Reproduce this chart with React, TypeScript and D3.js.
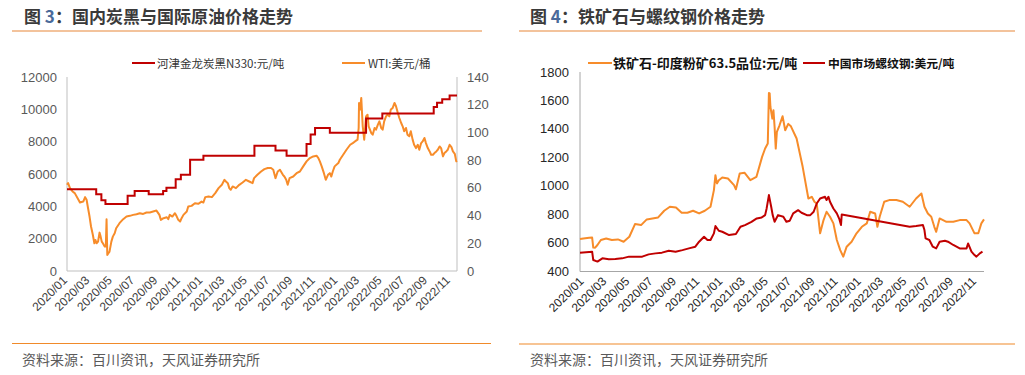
import React from "react";
import * as d3 from "d3";

// ---------- Data ----------
const monthLabels = ["2020/01","2020/03","2020/05","2020/07","2020/09","2020/11","2021/01","2021/03","2021/05","2021/07","2021/09","2021/11","2022/01","2022/03","2022/05","2022/07","2022/09","2022/11"];
const leftTicksL = [0,2000,4000,6000,8000,10000,12000];
const leftTicksR = [0,20,40,60,80,100,120,140];
const rightTicks = [400,600,800,1000,1200,1400,1600,1800];

const carbonBlack: [string, number][] = [["2020-01-01",5050],["2020-03-20",4750],["2020-04-03",4380],["2020-04-14",4150],["2020-06-13",4650],["2020-07-02",4950],["2020-08-09",4750],["2020-09-17",4950],["2020-09-26",5150],["2020-10-21",5680],["2020-11-04",5950],["2020-11-29",6880],["2021-01-04",7130],["2021-05-22",7750],["2021-07-18",7460],["2021-08-17",7130],["2021-10-10",7850],["2021-10-21",8450],["2021-11-02",8850],["2021-12-12",8550],["2022-03-20",9440],["2022-05-03",9750],["2022-09-19",10150],["2022-09-28",10400],["2022-10-12",10620],["2022-11-01",10850],["2022-11-21",10850]];

const wti: [string, number][] = [["2020-01-01",62.2],["2020-01-04",63.4],["2020-01-09",59.8],["2020-01-16",57.4],["2020-01-22",56.2],["2020-02-01",51.4],["2020-02-05",49.4],["2020-02-14",50.1],["2020-02-19",53.3],["2020-02-23",51.4],["2020-02-27",45.3],["2020-03-02",39.3],["2020-03-06",32.1],["2020-03-11",26.0],["2020-03-15",20.0],["2020-03-18",22.4],["2020-03-21",20.0],["2020-03-25",21.2],["2020-03-29",27.7],["2020-04-01",24.8],["2020-04-04",21.2],["2020-04-07",20.0],["2020-04-12",17.6],["2020-04-15",17.6],["2020-04-17",37.4],["2020-04-19",11.6],["2020-04-22",12.8],["2020-04-25",14.0],["2020-04-30",21.2],["2020-05-04",24.8],["2020-05-09",27.2],["2020-05-13",30.9],["2020-05-22",34.5],["2020-06-01",37.4],["2020-06-10",39.3],["2020-06-19",39.8],["2020-06-28",40.5],["2020-07-07",41.0],["2020-07-16",41.7],["2020-07-25",41.2],["2020-08-03",42.2],["2020-08-12",42.2],["2020-08-21",42.9],["2020-08-30",43.6],["2020-09-07",40.5],["2020-09-11",36.9],["2020-09-18",38.1],["2020-09-27",38.8],["2020-10-01",37.4],["2020-10-05",40.5],["2020-10-12",39.3],["2020-10-19",41.7],["2020-10-23",39.8],["2020-10-28",36.9],["2020-11-02",35.7],["2020-11-06",38.1],["2020-11-11",40.5],["2020-11-20",42.9],["2020-11-24",46.5],["2020-12-03",47.0],["2020-12-12",48.9],["2020-12-21",48.5],["2020-12-30",50.1],["2021-01-04",49.4],["2021-01-09",53.3],["2021-01-18",53.8],["2021-01-27",53.3],["2021-02-05",56.2],["2021-02-14",59.8],["2021-02-23",62.2],["2021-03-02",65.8],["2021-03-06",64.6],["2021-03-11",63.4],["2021-03-15",59.8],["2021-03-19",58.6],["2021-03-24",61.0],["2021-04-02",59.8],["2021-04-11",62.2],["2021-04-20",63.9],["2021-04-29",65.8],["2021-05-08",64.6],["2021-05-17",63.4],["2021-05-21",67.0],["2021-05-30",69.4],["2021-06-09",71.8],["2021-06-18",73.5],["2021-06-27",74.3],["2021-07-06",74.3],["2021-07-12",73.1],["2021-07-18",67.0],["2021-07-24",71.8],["2021-07-30",73.1],["2021-08-07",69.4],["2021-08-11",68.2],["2021-08-16",65.8],["2021-08-20",62.2],["2021-08-25",67.0],["2021-09-04",68.2],["2021-09-13",70.6],["2021-09-22",71.8],["2021-10-01",75.5],["2021-10-10",79.1],["2021-10-19",81.5],["2021-10-28",82.7],["2021-11-06",83.2],["2021-11-11",81.5],["2021-11-15",79.1],["2021-11-20",75.5],["2021-11-26",70.6],["2021-12-01",65.8],["2021-12-07",69.4],["2021-12-12",70.6],["2021-12-16",68.2],["2021-12-20",71.8],["2021-12-25",75.5],["2022-01-04",77.9],["2022-01-08",80.3],["2022-01-17",83.9],["2022-01-26",87.5],["2022-02-05",91.1],["2022-02-12",92.3],["2022-02-18",93.5],["2022-02-25",94.8],["2022-02-28",103.2],["2022-03-01",121.3],["2022-03-04",116.5],["2022-03-07",124.9],["2022-03-11",104.4],["2022-03-15",94.8],["2022-03-20",111.6],["2022-03-24",112.8],["2022-03-27",104.4],["2022-04-03",99.6],["2022-04-07",98.4],["2022-04-12",103.2],["2022-04-16",102.0],["2022-04-21",105.6],["2022-04-25",108.0],["2022-04-30",103.2],["2022-05-04",102.0],["2022-05-08",108.0],["2022-05-13",111.6],["2022-05-17",112.8],["2022-05-22",111.6],["2022-05-26",116.5],["2022-05-31",117.7],["2022-06-05",121.3],["2022-06-09",118.9],["2022-06-14",114.0],["2022-06-18",110.4],["2022-06-23",106.8],["2022-06-27",104.4],["2022-07-01",100.8],["2022-07-06",103.2],["2022-07-10",98.4],["2022-07-15",97.2],["2022-07-19",100.8],["2022-07-24",94.8],["2022-07-28",91.1],["2022-08-02",88.7],["2022-08-07",91.1],["2022-08-11",87.5],["2022-08-16",92.3],["2022-08-20",93.5],["2022-08-25",96.0],["2022-08-29",92.3],["2022-09-03",88.7],["2022-09-08",86.3],["2022-09-12",83.9],["2022-09-17",83.9],["2022-09-21",85.1],["2022-09-26",86.3],["2022-09-30",87.5],["2022-10-05",89.9],["2022-10-09",88.7],["2022-10-14",82.7],["2022-10-18",85.1],["2022-10-23",86.3],["2022-10-27",87.5],["2022-11-01",91.1],["2022-11-06",89.4],["2022-11-10",86.3],["2022-11-15",84.6],["2022-11-19",79.1],["2022-11-21",79.6]];

const ironOre: [string, number][] = [["2019-12-23",625],["2020-01-01",629],["2020-01-16",634],["2020-01-24",635],["2020-01-27",565],["2020-02-01",564],["2020-02-07",583],["2020-02-16",618],["2020-03-01",629],["2020-03-16",618],["2020-04-01",622],["2020-04-16",606],["2020-05-01",641],["2020-05-16",730],["2020-06-01",723],["2020-06-16",763],["2020-07-01",770],["2020-07-16",777],["2020-08-01",824],["2020-08-16",852],["2020-09-01",847],["2020-09-16",810],["2020-10-01",810],["2020-10-16",824],["2020-11-01",805],["2020-11-16",824],["2020-12-01",852],["2020-12-10",969],["2020-12-14",1074],["2020-12-18",1016],["2020-12-23",1039],["2021-01-01",1058],["2021-01-16",1051],["2021-02-01",1004],["2021-02-06",975],["2021-02-16",1086],["2021-03-01",1091],["2021-03-16",1039],["2021-04-01",1062],["2021-04-16",1203],["2021-04-24",1262],["2021-05-01",1297],["2021-05-04",1652],["2021-05-06",1650],["2021-05-08",1554],["2021-05-13",1472],["2021-05-16",1531],["2021-05-19",1414],["2021-05-22",1261],["2021-05-25",1379],["2021-06-01",1425],["2021-06-09",1489],["2021-06-16",1390],["2021-06-24",1435],["2021-07-01",1418],["2021-07-16",1332],["2021-08-01",1133],["2021-08-16",910],["2021-08-25",922],["2021-09-01",887],["2021-09-07",875],["2021-09-16",665],["2021-09-25",758],["2021-10-03",817],["2021-10-12",782],["2021-10-21",735],["2021-10-30",618],["2021-11-08",547],["2021-11-16",501],["2021-11-25",571],["2021-12-08",606],["2021-12-21",665],["2022-01-04",711],["2022-01-17",735],["2022-01-26",817],["2022-02-08",805],["2022-02-14",711],["2022-02-20",782],["2022-03-04",887],["2022-03-17",899],["2022-04-05",899],["2022-04-22",887],["2022-05-10",852],["2022-05-27",910],["2022-06-10",945],["2022-06-18",852],["2022-06-27",805],["2022-07-06",782],["2022-07-14",711],["2022-07-19",676],["2022-07-28",770],["2022-08-15",746],["2022-09-02",746],["2022-09-19",758],["2022-10-07",758],["2022-10-15",735],["2022-10-28",665],["2022-11-07",665],["2022-11-15",735],["2022-11-22",763]];

const rebar: [string, number][] = [["2019-12-23",529],["2020-01-24",536],["2020-01-27",477],["2020-02-07",466],["2020-02-20",489],["2020-03-08",482],["2020-03-25",484],["2020-04-12",489],["2020-04-30",501],["2020-05-17",501],["2020-06-04",501],["2020-06-21",517],["2020-07-09",524],["2020-07-26",529],["2020-08-13",543],["2020-08-31",536],["2020-09-18",547],["2020-10-05",559],["2020-10-22",571],["2020-11-01",606],["2020-11-14",641],["2020-11-23",618],["2020-12-01",618],["2020-12-10",665],["2020-12-14",716],["2020-12-23",683],["2021-01-01",676],["2021-01-19",653],["2021-02-06",660],["2021-02-18",711],["2021-03-02",723],["2021-03-19",746],["2021-04-02",770],["2021-04-15",777],["2021-04-24",793],["2021-04-28",840],["2021-05-04",934],["2021-05-10",852],["2021-05-14",793],["2021-05-19",746],["2021-05-28",793],["2021-06-11",782],["2021-06-19",746],["2021-06-28",754],["2021-07-07",805],["2021-07-20",828],["2021-07-29",810],["2021-08-12",793],["2021-08-21",793],["2021-08-30",817],["2021-09-07",875],["2021-09-16",910],["2021-09-29",922],["2021-10-03",899],["2021-10-08",922],["2021-10-12",887],["2021-10-21",840],["2021-10-30",805],["2021-11-06",763],["2021-11-10",723],["2021-11-12",798],["2022-05-10",711],["2022-05-27",716],["2022-06-14",723],["2022-06-18",688],["2022-06-21",629],["2022-07-01",618],["2022-07-10",571],["2022-07-19",559],["2022-07-28",606],["2022-08-11",613],["2022-08-19",606],["2022-09-02",583],["2022-09-19",559],["2022-10-07",559],["2022-10-11",594],["2022-10-20",536],["2022-10-28",512],["2022-11-02",501],["2022-11-11",524],["2022-11-18",536]];

// ---------- Styles ----------
const FONT = "'Liberation Sans', Arial, 'Noto Sans CJK SC', sans-serif";
const CJK = "'Noto Sans CJK SC', 'Liberation Sans', sans-serif";
const RED = "#C00000";
const ORANGE = "#F78C2A";
const AXIS = "#BFBFBF";
const RULE = "#E8883A";

const parse = d3.timeParse("%Y-%m-%d");
const toDate = (s: string) => parse(s) as Date;
const labelDate = (l: string) => toDate(l.replace("/", "-") + "-01");

function Title({ x, num, text }: { x: number; num: string; text: string }) {
  return (
    <text x={x} y={23} fontFamily={CJK} fontSize={17} fontWeight="bold" fill="#3A3A3A">
      图 <tspan fill="#4A6A9A">{num}</tspan>：{text}
    </text>
  );
}

export default function App() {
  // left chart
  const xL = d3.scaleTime().domain([toDate("2020-01-01"), toDate("2022-11-21")]).range([67, 457]);
  const yL = d3.scaleLinear().domain([0, 12000]).range([271, 77]);
  const yR = d3.scaleLinear().domain([0, 140]).range([271, 77]);
  const cbLine = d3.line<[string, number]>().x(d => xL(toDate(d[0]))).y(d => yL(d[1])).curve(d3.curveStepAfter);
  const wtiLine = d3.line<[string, number]>().x(d => xL(toDate(d[0]))).y(d => yR(d[1]));

  // right chart
  const x2 = d3.scaleTime().domain([toDate("2019-12-23"), toDate("2022-11-22")]).range([580, 984]);
  const y2 = d3.scaleLinear().domain([400, 1800]).range([271, 72]);
  const line2 = d3.line<[string, number]>().x(d => x2(toDate(d[0]))).y(d => y2(d[1]));

  return (
    <svg width={1025} height={375} style={{ position: "absolute", left: 0, top: 0, background: "#fff" }}>
      <rect x={0} y={0} width={1025} height={375} fill="#fff" />
      {/* Titles & rules */}
      <Title x={24} num="3" text="国内炭黑与国际原油价格走势" />
      <Title x={530} num="4" text="铁矿石与螺纹钢价格走势" />
      <line x1={12} x2={482} y1={31} y2={31} stroke={RULE} strokeWidth={1.2} />
      <line x1={519} x2={1015} y1={31} y2={31} stroke={RULE} strokeWidth={1.2} />
      <line x1={12} x2={491} y1={343.5} y2={343.5} stroke="#F08A2A" strokeWidth={1.2} />
      <line x1={519} x2={1015} y1={344} y2={344} stroke="#F08A2A" strokeWidth={1.2} />
      <text x={22} y={365} fontFamily={CJK} fontSize={14} fill="#5A5A5A">资料来源：百川资讯，天风证券研究所</text>
      <text x={530} y={365} fontFamily={CJK} fontSize={14} fill="#5A5A5A">资料来源：百川资讯，天风证券研究所</text>

      {/* ---- Left chart ---- */}
      <line x1={132} x2={155} y1={63} y2={63} stroke={RED} strokeWidth={2} />
      <text x={157} y={67.5} fontFamily={CJK} fontSize={11.5} fill="#333">河津金龙炭黑N330:元/吨</text>
      <line x1={342} x2={365} y1={63} y2={63} stroke={ORANGE} strokeWidth={2} />
      <text x={368} y={67.5} fontFamily={CJK} fontSize={11.5} fill="#333">WTI:美元/桶</text>

      <line x1={67} x2={67} y1={77} y2={271} stroke={AXIS} />
      <line x1={457} x2={457} y1={77} y2={271} stroke={AXIS} />
      <line x1={67} x2={457} y1={271} y2={271} stroke={AXIS} />
      {leftTicksL.map(t => (
        <text key={"l" + t} x={57} y={yL(t) + 4.5} textAnchor="end" fontFamily={FONT} fontSize={13} fill="#595959">{t}</text>
      ))}
      {leftTicksR.map(t => (
        <text key={"r" + t} x={467} y={yR(t) + 4.5} fontFamily={FONT} fontSize={13} fill="#595959">{t}</text>
      ))}
      {monthLabels.map(l => {
        const x = xL(labelDate(l));
        return (
          <text key={"xl" + l} transform={`translate(${x + 1},${281}) rotate(-45)`} textAnchor="end" fontFamily={FONT} fontSize={12} fill="#404040">{l}</text>
        );
      })}
      <path d={wtiLine(wti) || ""} fill="none" stroke={ORANGE} strokeWidth={2} strokeLinejoin="round" />
      <path d={cbLine(carbonBlack) || ""} fill="none" stroke={RED} strokeWidth={2} />

      {/* ---- Right chart ---- */}
      <line x1={588} x2={612} y1={63} y2={63} stroke={ORANGE} strokeWidth={2} />
      <text x={613} y={67.5} fontFamily={CJK} fontSize={13} fontWeight="bold" fill="#111">铁矿石-印度粉矿63.5品位:元/吨</text>
      <line x1={803} x2={825} y1={63} y2={63} stroke={RED} strokeWidth={2} />
      <text x={828} y={67.5} fontFamily={CJK} fontSize={11.8} fontWeight="bold" fill="#111">中国市场螺纹钢:美元/吨</text>

      <line x1={580} x2={580} y1={72} y2={271.5} stroke="#A6A6A6" />
      <line x1={580} x2={984} y1={271.5} y2={271.5} stroke="#A6A6A6" />
      {rightTicks.map(t => (
        <text key={"rt" + t} x={569} y={y2(t) + 4.5} textAnchor="end" fontFamily={FONT} fontSize={13} fill="#262626">{t}</text>
      ))}
      {monthLabels.map(l => {
        const x = x2(labelDate(l));
        return (
          <text key={"xr" + l} transform={`translate(${x + 1},${282}) rotate(-45)`} textAnchor="end" fontFamily={FONT} fontSize={12} fill="#262626">{l}</text>
        );
      })}
      <path d={line2(ironOre) || ""} fill="none" stroke={ORANGE} strokeWidth={2} strokeLinejoin="round" />
      <path d={line2(rebar) || ""} fill="none" stroke={RED} strokeWidth={2} strokeLinejoin="round" />
    </svg>
  );
}
